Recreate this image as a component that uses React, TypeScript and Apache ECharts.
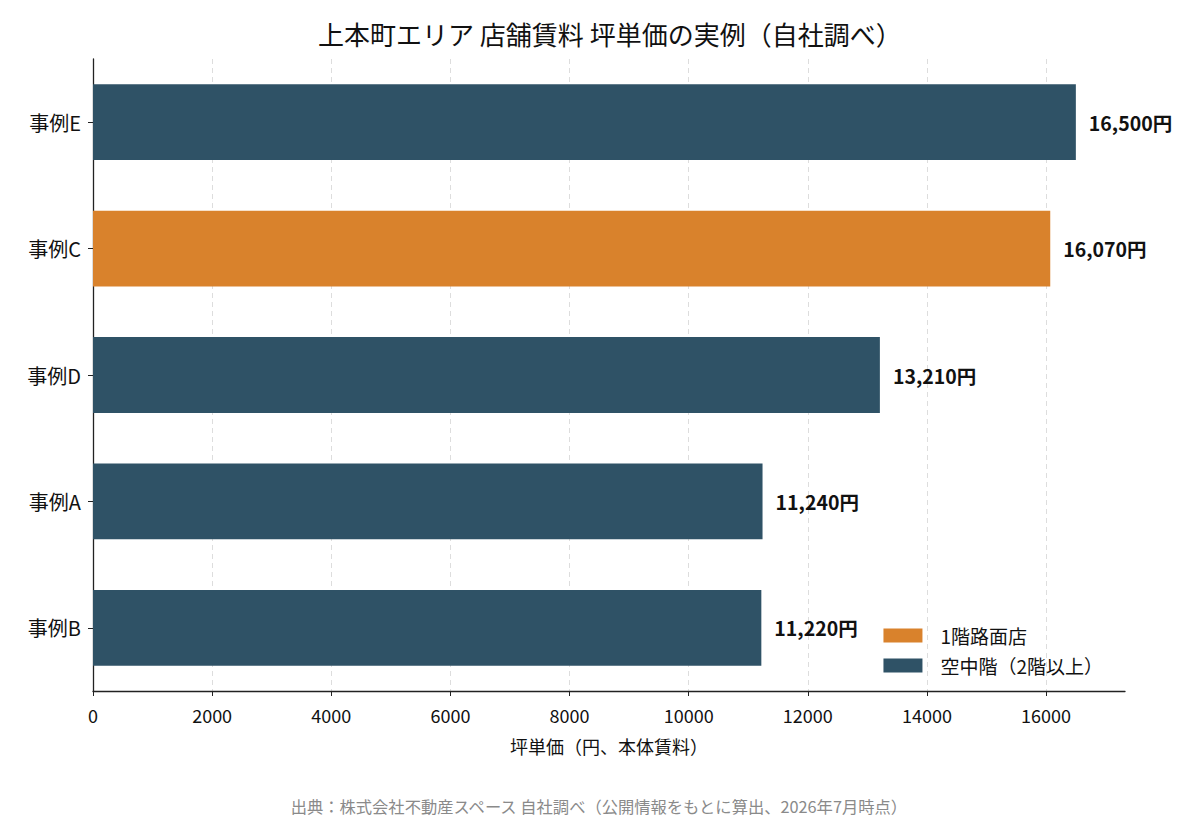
import { useEffect, useRef } from "react";
import * as echarts from "echarts";

// 下から上への並び
const categories = ["事例B", "事例A", "事例D", "事例C", "事例E"];
const streetValues = [null, null, null, 16070, null];
const upperValues = [11220, 11240, 13210, null, 16500];
const tickValues = [0, 2000, 4000, 6000, 8000, 10000, 12000, 14000, 16000];

const FONT = '"Noto Sans CJK JP", "Noto Sans", sans-serif';
const ORANGE = "#d9822c";
const SLATE = "#2f5266";

export default function App() {
    const chartRef = useRef<HTMLDivElement | null>(null);

    useEffect(() => {
        if (!chartRef.current) return;
        const chart = echarts.init(chartRef.current, undefined, { renderer: "svg" });

        const label = {
            show: true,
            position: "right" as const,
            distance: 13,
            color: "#111",
            fontSize: 19.5,
            fontWeight: "bold" as const,
            fontFamily: FONT,
            formatter: (p: any) => `${Number(p.value).toLocaleString("en-US")}円`,
        };

        chart.setOption({
            animation: false,
            backgroundColor: "#ffffff",
            textStyle: { fontFamily: FONT },
            title: {
                text: "上本町エリア 店舗賃料 坪単価の実例（自社調べ）",
                left: 313,
                top: 15,
                textStyle: { fontSize: 26, fontWeight: "normal", color: "#111", fontFamily: FONT },
            },
            graphic: [
                {
                    type: "text",
                    left: "center",
                    top: 798,
                    style: {
                        text: "出典：株式会社不動産スペース 自社調べ（公開情報をもとに算出、2026年7月時点）",
                        fill: "#8a8a8a",
                        fontSize: 16.3,
                        fontFamily: FONT,
                    },
                },
            ],
            legend: {
                orient: "vertical",
                right: 92,
                top: 621,
                itemWidth: 39,
                itemHeight: 14,
                itemGap: 11,
                icon: "rect",
                textStyle: { fontSize: 19, color: "#111", fontFamily: FONT, padding: [0, 0, 0, 13] },
                data: ["1階路面店", "空中階（2階以上）"],
            },
            grid: { left: 93, right: 75, top: 59, bottom: 134 },
            xAxis: {
                type: "value",
                min: 0,
                max: 17325,
                name: "坪単価（円、本体賃料）",
                nameLocation: "middle",
                nameGap: 46,
                nameTextStyle: { fontSize: 18, color: "#111", fontFamily: FONT },
                axisLine: { show: true, lineStyle: { color: "#222", width: 1.3 } },
                axisTick: { show: true, length: 5, customValues: tickValues, lineStyle: { color: "#222" } },
                axisLabel: {
                    customValues: tickValues,
                    fontSize: 18,
                    color: "#111",
                    margin: 15,
                    fontFamily: FONT,
                    formatter: (v: number) => String(v),
                },
                splitLine: { show: true, lineStyle: { color: "#dddddd", type: [5, 4], width: 1 } },
            },
            yAxis: {
                type: "category",
                data: categories,
                axisLine: { show: true, lineStyle: { color: "#222", width: 1.3 } },
                axisTick: { show: true, length: 5, alignWithLabel: true, lineStyle: { color: "#222" } },
                axisLabel: { fontSize: 20, color: "#111", margin: 12, fontFamily: FONT },
            },
            series: [
                {
                    name: "1階路面店",
                    type: "bar",
                    stack: "all",
                    barWidth: "60%",
                    data: streetValues,
                    itemStyle: { color: ORANGE },
                    label,
                },
                {
                    name: "空中階（2階以上）",
                    type: "bar",
                    stack: "all",
                    barWidth: "60%",
                    data: upperValues,
                    itemStyle: { color: SLATE },
                    label,
                },
            ],
        });

        return () => chart.dispose();
    }, []);

    return <div ref={chartRef} style={{ width: 1200, height: 825, margin: -8 }} />;
}
